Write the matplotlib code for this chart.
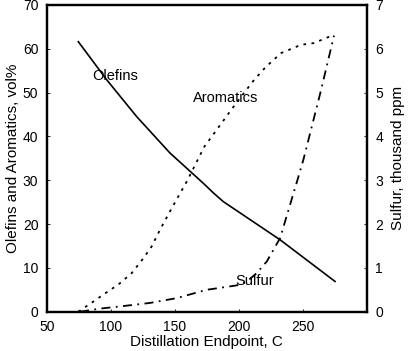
import matplotlib
matplotlib.use("Agg")
import matplotlib.pyplot as plt

plt.rcParams['font.family'] = ['Liberation Sans', 'DejaVu Sans']

olefins_x = [74.7, 96.9, 120.3, 146.3, 172.3, 180.2, 188, 232.3, 275.2]
olefins_y = [61.6, 52.9, 44.5, 36.2, 29.3, 27.1, 25.1, 16.4, 6.9]

arom_x = [74.7, 86.4, 94.2, 106, 116.4, 125.5, 132, 138.5, 146.3, 152.8, 159.4,
          173, 198, 212, 221.3, 233, 248.7, 258.8, 274.4]
arom_y = [0, 2.3, 3.9, 6.2, 8.8, 12.2, 14.9, 18.7, 22.9, 26.3, 29.7,
          37.6, 47.6, 52.9, 55.9, 59, 60.9, 61.3, 63.2]

sulfur_x = [76, 91.6, 107.3, 130.7, 151.6, 175, 198.4, 206, 214, 222, 232.3, 246.6, 250.5, 264.3, 274.4]
sulfur_y = [0, 0.07, 0.12, 0.2, 0.31, 0.5, 0.6, 0.68, 0.88, 1.15, 1.68, 3.08, 3.47, 5.06, 6.3]

x_ticks = [50, 100, 150, 200, 250]
left_ticks = [0, 10, 20, 30, 40, 50, 60, 70]
right_ticks = [0, 1, 2, 3, 4, 5, 6, 7]

fig = plt.figure(figsize=(4.08, 3.51), dpi=100)
ax = fig.add_axes([0.1145, 0.112, 0.7845, 0.874])
ax2 = ax.twinx()

ax.plot(olefins_x, olefins_y, color='black', lw=1.2, ls='-')
ax.plot(arom_x, arom_y, color='black', lw=1.3, ls=(0, (1.5, 3)))
ax2.plot(sulfur_x, sulfur_y, color='black', lw=1.3, ls=(0, (5, 3, 1, 3)))

ax.set_xlim(50, 300)
ax.set_ylim(0, 70)
ax2.set_ylim(0, 7)
ax.set_xticks(x_ticks)
ax.set_yticks(left_ticks)
ax2.set_yticks(right_ticks)

for a in (ax, ax2):
    for s in a.spines.values():
        s.set_linewidth(1.6)
    a.tick_params(direction='in', length=2, width=0.6, labelsize=10, colors='black', pad=6)

ax.set_xlabel('Distillation Endpoint, C', fontsize=11, labelpad=1)
ax.set_ylabel('Olefins and Aromatics, vol%', fontsize=11, labelpad=2)
ax2.set_ylabel('Sulfur, thousand ppm', fontsize=11, labelpad=6)

ax.text(103.4, 53.8, 'Olefins', fontsize=10.5, ha='center', va='center')
ax.text(190, 48.8, 'Aromatics', fontsize=10.5, ha='center', va='center')
ax.text(212.7, 7.1, 'Sulfur', fontsize=10.5, ha='center', va='center')

fig.savefig('out.png', dpi=100)
